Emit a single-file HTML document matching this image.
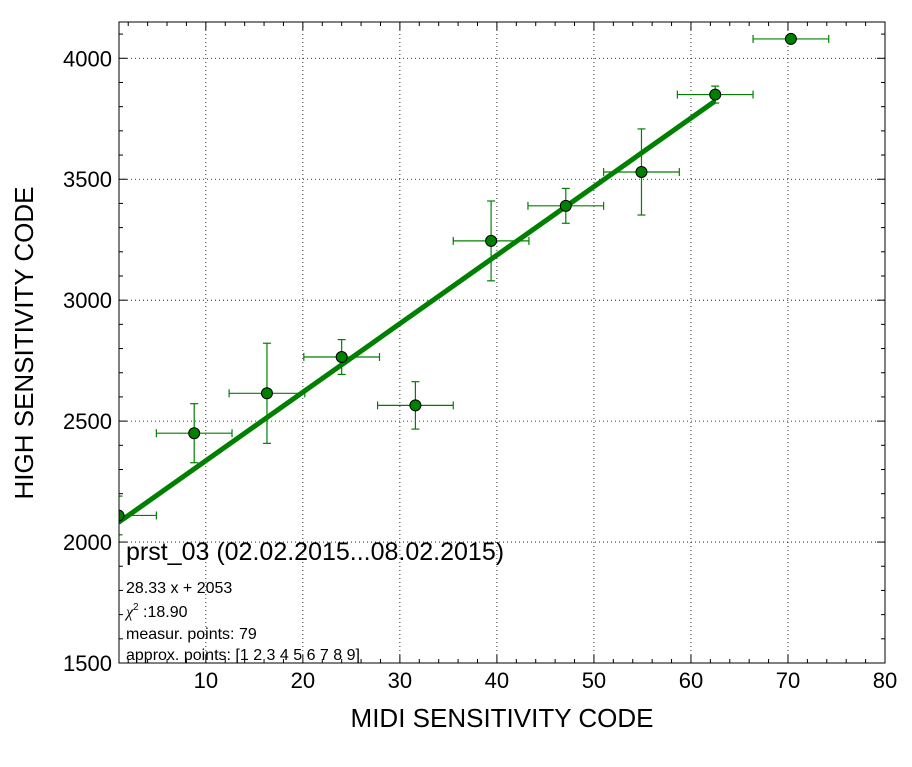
<!DOCTYPE html>
<html><head><meta charset="utf-8"><style>
body{margin:0;background:#fff;}
svg text{font-family:"Liberation Sans","DejaVu Sans",sans-serif;}
</style></head><body>
<svg id="chart" width="912" height="762" xmlns="http://www.w3.org/2000/svg">
<rect x="0" y="0" width="912" height="762" fill="#fff"/>
<g id="grid"></g>
<g id="ticks"></g>
<g id="series"></g>
<rect x="119" y="22" width="766" height="641" fill="none" stroke="#000" stroke-width="1"/>
<text x="502" y="727" font-size="26" text-anchor="middle">MIDI SENSITIVITY CODE</text>
<text transform="translate(33,343) rotate(-90)" font-size="26" text-anchor="middle">HIGH SENSITIVITY CODE</text>
<text x="126" y="560" font-size="25">prst_03 (02.02.2015...08.02.2015)</text>
<text x="126" y="593" font-size="16">28.33 x + 2053</text>
<text x="126" y="617" font-size="16"><tspan font-family="Liberation Serif,serif" font-style="italic">χ</tspan><tspan font-size="10" dy="-7">2</tspan><tspan dy="7"> :18.90</tspan></text>
<text x="126" y="639" font-size="16">measur. points: 79</text>
<text x="126" y="660" font-size="16">approx. points: [1 2 3 4 5 6 7 8 9]</text>
</svg>
<script>
const xVals=[1.0,8.8,16.3,24.0,31.6,39.4,47.1,54.9,62.5,70.3];
const yVals=[2110,2450,2615,2765,2565,3245,3390,3530,3850,4080];
const xErr=[3.9,3.9,3.9,3.9,3.9,3.9,3.9,3.9,3.9,3.9];
const yErr=[80,122,207,72,98,165,72,178,35,0];
const fitSlope=28.33, fitIntercept=2053, fitRange=[1.0,62.5];
const xTicks=[10,20,30,40,50,60,70,80];
const yTicks=[1500,2000,2500,3000,3500,4000];
const X0=119,X1=885,Y0=663,Y1=22,xMin=1.05,xMax=80,yMin=1500,yMax=4150;
const sx=v=>X0+(v-xMin)/(xMax-xMin)*(X1-X0);
const sy=v=>Y0-(v-yMin)/(yMax-yMin)*(Y0-Y1);
const NS="http://www.w3.org/2000/svg";
function mk(p,t,a){const e=document.createElementNS(NS,t);for(const k in a)e.setAttribute(k,a[k]);p.appendChild(e);return e;}
const grid=document.getElementById('grid'),ticks=document.getElementById('ticks'),ser=document.getElementById('series');
xTicks.forEach(t=>{const x=sx(t);
 if(t<80){const g=mk(grid,'line',{x1:x,x2:x,y1:Y1,y2:Y0,stroke:'#000','stroke-width':0.8,'stroke-dasharray':'1,3'});
 }
 const l=mk(ticks,'text',{x:x,y:688,'font-size':22,'text-anchor':'middle'});l.textContent=t;
 });
for(let v=2;v<80;v+=2){const x=sx(v);const big=v%10==0;const L=big?8:4;
 mk(ticks,'line',{x1:x,x2:x,y1:Y0,y2:Y0-L,stroke:'#000'});mk(ticks,'line',{x1:x,x2:x,y1:Y1,y2:Y1+L,stroke:'#000'});}
yTicks.forEach(t=>{const y=sy(t);
 if(t>1500){const g=mk(grid,'line',{x1:X0,x2:X1,y1:y,y2:y,stroke:'#000','stroke-width':0.8,'stroke-dasharray':'1,3'});
 }
 const l=mk(ticks,'text',{x:112,y:y+8,'font-size':22,'text-anchor':'end'});l.textContent=t;
 });
for(let v=1600;v<4150;v+=100){const y=sy(v);const L=v%500==0?8:4;
 mk(ticks,'line',{x1:X0,x2:X0+L,y1:y,y2:y,stroke:'#000'});mk(ticks,'line',{x1:X1,x2:X1-L,y1:y,y2:y,stroke:'#000'});}
const clip=mk(ser,'clipPath',{id:'pc'});mk(clip,'rect',{x:X0,y:Y1,width:X1-X0,height:Y0-Y1});
const g2=mk(ser,'g',{'clip-path':'url(#pc)'});
xVals.forEach((xv,i)=>{const x=sx(xv),y=sy(yVals[i]);const xa=sx(xv-xErr[i]),xb=sx(xv+xErr[i]);
 const eb=mk(g2,'g',{stroke:'#008000','stroke-width':1.2});
 
 mk(eb,'line',{x1:xa,x2:xb,y1:y,y2:y});mk(eb,'line',{x1:xa,x2:xa,y1:y-4,y2:y+4});mk(eb,'line',{x1:xb,x2:xb,y1:y-4,y2:y+4});
 if(yErr[i]>0){const ya=sy(yVals[i]-yErr[i]),yb=sy(yVals[i]+yErr[i]);
 mk(eb,'line',{x1:x,x2:x,y1:ya,y2:yb});mk(eb,'line',{x1:x-4,x2:x+4,y1:ya,y2:ya});mk(eb,'line',{x1:x-4,x2:x+4,y1:yb,y2:yb});}});
const fl=mk(g2,'line',{x1:sx(fitRange[0]),y1:sy(fitSlope*fitRange[0]+fitIntercept),x2:sx(fitRange[1]),y2:sy(fitSlope*fitRange[1]+fitIntercept),stroke:'#008000','stroke-width':5});

xVals.forEach((xv,i)=>{const c=mk(g2,'circle',{cx:sx(xv),cy:sy(yVals[i]),r:5.5,fill:'#008000',stroke:'#000','stroke-width':1});
 });
</script>
</body></html>
